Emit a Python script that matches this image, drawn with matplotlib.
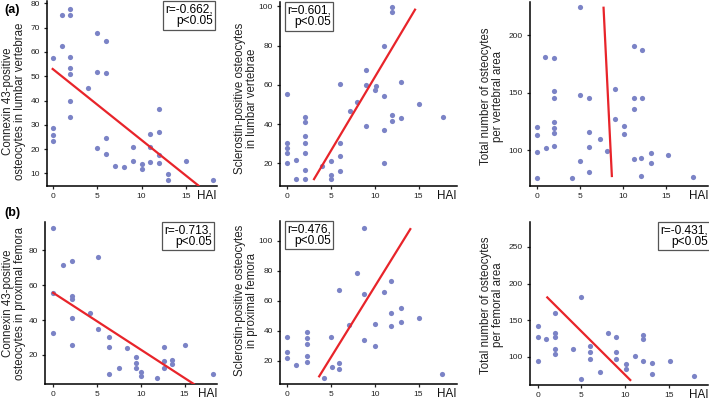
import matplotlib
matplotlib.use("Agg")
import matplotlib.pyplot as plt

plt.rcParams['font.family'] = ['Liberation Sans', 'DejaVu Sans']

# ==========================================
# DATA
# ==========================================

# (a) lumbar vertebrae
a1_hai = [0, 0, 0, 0, 1, 1.1, 2, 2, 2, 2, 2, 2, 2, 4, 5, 5, 5, 6, 6, 6, 6,
          7, 8, 9, 9, 10, 10, 11, 11, 11, 12, 12, 12, 12, 13, 13, 15, 18]
a1_val = [57.5, 28.6, 26, 23.2, 75.2, 62.4, 77.6, 75.2, 57.9, 53.5, 50.8, 39.8, 33.3,
          45.2, 67.8, 51.6, 20.6, 64.5, 51.2, 24.4, 17.9,
          13, 12.5, 20.9, 15, 14, 12, 26.2, 20.7, 14.8, 36.6, 27, 17.7, 14.3,
          9.7, 7.3, 15.2, 7.3]
a1_fit_x = [0, 16.4]
a1_fit_y = [53, 5]

a2_hai = [0, 0, 0, 0, 0, 1, 1, 2, 2, 2, 2, 2, 2, 2, 4, 5, 5, 5, 6, 6, 6, 6,
          7.2, 8, 9, 9, 9, 10, 10.1, 11, 11.1, 11, 11, 12, 12, 12, 12, 13, 13, 15, 17.8]
a2_val = [55.1, 30.5, 28.1, 25.4, 20.2, 21.5, 11.9, 43.4, 41, 33.9, 30.5, 25.1, 16.6, 11.9,
          18.6, 21.2, 14.2, 11.9, 60.3, 30.2, 23.6, 15.9,
          46.8, 51.4, 67.8, 59.7, 39, 57.3, 59.5, 54.2, 79.7, 37, 20.3,
          99.7, 97.1, 44.6, 41.7, 61.4, 43, 50.2, 43.4]
a2_fit_x = [3.05, 14.6]
a2_fit_y = [12, 98.3]

a3_hai = [0, 0, 0, 0, 1, 1.1, 2, 2, 2, 2, 2, 2, 2, 4.1, 5, 5, 5, 6, 6, 6, 6,
          7.3, 8.1, 9.1, 9.1, 10.1, 10.1, 11.2, 11.2, 11.2, 11.2, 12.2, 12.2, 12.1, 12.1,
          13.2, 13.2, 15.2, 18.1]
a3_val = [120.3, 112.8, 98.6, 75.4, 181.2, 101.4, 180.3, 151.3, 145.8, 124.6, 119.4, 114.5, 103.8,
          75.4, 224.6, 148.4, 90.1, 145.8, 115.9, 102.9, 81.2,
          109.9, 99.4, 152.8, 127.2, 121.2, 113.9, 190.7, 145.5, 135.7, 91.9,
          187, 145.5, 93, 77.7, 97.7, 88.7, 95.7, 76.2]
a3_fit_x = [7.73, 8.69]
a3_fit_y = [224, 77.4]

# (b) proximal femora
b1_hai = [0, 0, 0, 1.1, 2.2, 2.2, 2.2, 2.2, 2.2, 4.2, 5.1, 5.1, 6.4, 6.4, 6.4,
          7.5, 8.4, 9.4, 9.4, 9.4, 10, 10, 11.8, 12.6, 12.6, 12.6, 13.6, 13.6, 15, 18.2]
b1_val = [92.6, 55.6, 32.7, 71.3, 74.1, 53.9, 51.8, 41.1, 25.7, 44, 76.4, 34.9, 30.1, 24.4, 9.3,
          12.2, 24.2, 18.5, 15.2, 12.4, 10.3, 7.8, 6.5, 24.6, 16.6, 12.4, 17.1, 14.7, 25.7, 9.3]
b1_fit_x = [0, 16.05]
b1_fit_y = [55.6, 3.3]

b2_hai = [0, 0, 0, 1, 2.3, 2.3, 2.3, 2.3, 2.3, 4.2, 5, 5.1, 5.9, 5.9, 5.9, 7,
          8, 8.8, 8.8, 8.8, 10, 10, 11, 11.9, 11.9, 11.9, 13, 13, 15, 17.7]
b2_val = [35.5, 26, 22, 17.1, 38.8, 35.2, 31, 23.1, 19.3, 8.5, 36.1, 16, 67, 18.5, 14.7, 44.1,
          78.3, 108.5, 64.4, 33.7, 44.5, 29.5, 65.7, 73, 52, 43.2, 54.9, 45.8, 48.3, 11.2]
b2_fit_x = [3.64, 14.06]
b2_fit_y = [9.6, 107.6]

b3_hai = [0, 0, 0, 1, 2, 2, 2, 2, 2, 4.1, 5, 5, 6, 6, 6, 7.1, 8.1, 9, 9, 9,
          10.1, 10.1, 11.1, 12.1, 12.1, 12.1, 13.1, 13.1, 15.1, 17.9]
b3_val = [141.8, 127.3, 94.1, 123.6, 159.1, 132.7, 127.3, 110, 104.1, 110, 181, 69.5,
          115, 106.4, 96.8, 79.1, 132.7, 127.3, 106.8, 96.8,
          90, 83.2, 100.5, 130, 124.5, 94.1, 90.9, 76.4, 94.5, 73.6]
b3_fit_x = [1.1, 10.6]
b3_fit_y = [181, 68.2]

ylabels = [
    "Connexin 43-positive\nosteocytes in lumbar vertebrae",
    "Sclerostin-positive osteocytes\nin lumbar vertebrae",
    "Total number of osteocytes\nper vertebral area",
    "Connexin 43-positive\nosteocytes in proximal femora",
    "Sclerostin-positive osteocytes\nin proximal femora",
    "Total number of osteocytes\nper femoral area",
]
stats = ["r=-0.662,\np<0.05", "r=0.601,\np<0.05", None,
         "r=-0.713,\np<0.05", "r=0.476,\np<0.05", "r=-0.431,\np<0.05"]
yticks = [[10, 20, 30, 40, 50, 60, 70, 80], [20, 40, 60, 80, 100], [100, 150, 200],
          [20, 40, 60, 80], [20, 40, 60, 80, 100], [100, 150, 200, 250]]
xticks = [0, 5, 10, 15]

# ==========================================
# LAYOUT
# ==========================================

W, H = 709, 401
DOT = "#7b83c6"
RED = "#e8242a"

# left, right, top, bottom in pixels
boxes = [(47, 217, 1, 186), (280, 457, 2, 186), (530, 708, 2, 186),
         (45, 217, 222, 384), (280, 457, 221, 384), (530, 708, 222, 385)]
xlims = [(-0.64, 18.5), (-0.84, 19.4), (-0.77, 19.8),
         (-0.93, 18.7), (-0.84, 19.4), (-0.88, 19.5)]
ylims = [(4.8, 81), (8.5, 102.2), (68.7, 229), (3.3, 96.2), (4.5, 113), (61.4, 284)]
# stats box anchor (axes fraction), alignment
stat_pos = [(0.975, 0.985, "right"), (0.04, 0.985, "left"), None,
            (0.97, 0.985, "right"), (0.04, 0.985, "left"), (1.0, 0.985, "right")]
label_xy = [(14, 101), (246, 98), (492, 96), (14, 303), (246, 300), (492, 305)]

panels = [(a1_hai, a1_val, a1_fit_x, a1_fit_y),
          (a2_hai, a2_val, a2_fit_x, a2_fit_y),
          (a3_hai, a3_val, a3_fit_x, a3_fit_y),
          (b1_hai, b1_val, b1_fit_x, b1_fit_y),
          (b2_hai, b2_val, b2_fit_x, b2_fit_y),
          (b3_hai, b3_val, b3_fit_x, b3_fit_y)]

fig = plt.figure(figsize=(W / 100, H / 100), dpi=100)

for i, (hai, val, fx, fy) in enumerate(panels):

    l, r, t, b = boxes[i]
    ax = fig.add_axes([l / W, 1 - b / H, (r - l) / W, (b - t) / H])

    ax.scatter(hai, val, s=14, color=DOT, linewidths=0, zorder=3)
    ax.plot(fx, fy, color=RED, linewidth=1.6, zorder=4)

    ax.set_xlim(*xlims[i])
    ax.set_ylim(*ylims[i])
    ax.set_xticks(xticks)
    ax.set_yticks(yticks[i])

    for side in ["top", "right"]:
        ax.spines[side].set_visible(False)
    for side in ["left", "bottom"]:
        ax.spines[side].set_linewidth(1.1)

    ax.tick_params(length=2.5, width=0.9, labelsize=6, pad=2.5, colors="#222222")

    ax.annotate("HAI", xy=(1.0, 0), xycoords="axes fraction",
                xytext=(0, -3), textcoords="offset points",
                ha="right", va="top", fontsize=8.4, color="#111111")

    # y label, placed in figure pixels
    lx, ly = label_xy[i]
    fig.text(lx / W, 1 - ly / H, ylabels[i], rotation=90, ha="center",
             va="center", fontsize=8.3, multialignment="center",
             linespacing=1.0, color="#222222")

    if stats[i]:
        sx, sy, ha = stat_pos[i]
        ax.text(sx, sy, stats[i], transform=ax.transAxes, ha=ha, va="top",
                multialignment="right", fontsize=8.6, linespacing=0.95,
                bbox=dict(boxstyle="square,pad=0.2", facecolor="white",
                          edgecolor="#555555", linewidth=0.9),
                zorder=5, clip_on=False)

fig.text(4 / W, 1 - 10 / H, "(a)", fontsize=9, fontweight="bold", va="center")
fig.text(4 / W, 1 - 213 / H, "(b)", fontsize=9, fontweight="bold", va="center")

fig.savefig("out.png", dpi=100)
